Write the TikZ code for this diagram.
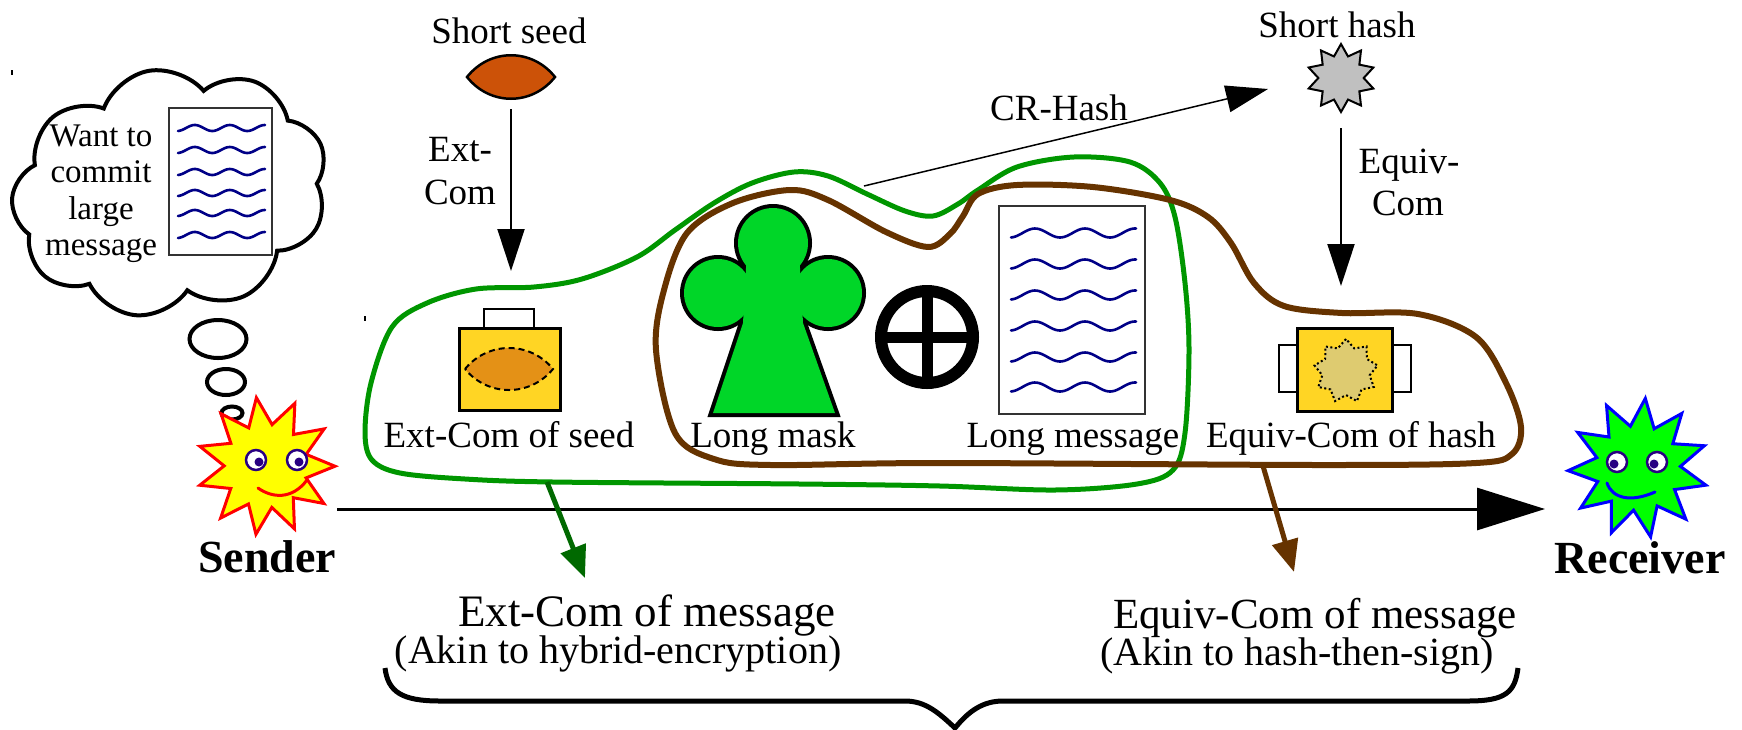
\documentclass[tikz,border=0pt]{standalone}
\usepackage{fontspec}
\setmainfont{Liberation Serif}
\usetikzlibrary{arrows.meta,shapes.geometric,shapes.symbols}

\definecolor{curvegreen}{RGB}{0,150,0}
\definecolor{arrowgreen}{RGB}{0,105,0}
\definecolor{curvebrown}{RGB}{102,51,0}
\definecolor{boxyellow}{RGB}{255,213,36}
\definecolor{seedorange}{RGB}{204,82,8}
\definecolor{lensorange}{RGB}{228,145,22}
\definecolor{hashgray}{RGB}{192,192,192}
\definecolor{starkhaki}{RGB}{222,203,112}
\definecolor{maskgreen}{RGB}{0,214,40}
\definecolor{wavenavy}{RGB}{0,0,135}
\definecolor{eyenavy}{RGB}{40,0,130}
\definecolor{sunyellow}{RGB}{255,255,0}
\definecolor{sunred}{RGB}{255,0,0}
\definecolor{facegreen}{RGB}{0,255,0}
\definecolor{faceblue}{RGB}{0,0,255}

% one wavy text line on a sheet: x0, y, length, amplitude, period
\newcommand{\wavyrow}[5]{\draw[wavy] plot[domain=0:#3,samples=60,smooth] ({#1+\x},{#2-#4*sin((\x-0.23*#5)*(360/#5))});}
% the club-shaped mask, as a list of filled parts
\newcommand{\maskparts}[1]{%
  \path[#1] (773,243) circle[radius=35];
  \path[#1] (718,293) circle[radius=34];
  \path[#1] (828,293) circle[radius=34];
  \path[#1] (747,250) -- (799,250) -- (803,323) -- (835,413) -- (713,413) -- (743,323) -- cycle;}

\begin{document}
\begin{tikzpicture}[x=1pt,y=-1pt,
  txt/.style={inner sep=0pt, anchor=base, font=\fontsize{37}{43}\selectfont},
  bigtxt/.style={inner sep=0pt, anchor=base, font=\fontsize{43}{48}\selectfont},
  midtxt/.style={inner sep=0pt, anchor=base, font=\fontsize{40}{46}\selectfont},
  cloudtxt/.style={inner sep=0pt, anchor=base, font=\fontsize{33}{37}\selectfont},
  nametxt/.style={inner sep=0pt, anchor=base, font=\bfseries\fontsize{46}{52}\selectfont},
  wavy/.style={draw=wavenavy, line width=2.6pt, line cap=round},
  paper/.style={draw=black!80, line width=2pt, fill=white, inner sep=0pt},
  bigtip/.style={-{Triangle[length=42pt,width=27pt]}},
  smalltip/.style={-{Triangle[length=32pt,width=26pt]}},
  lockbox/.style={draw=black, line width=3pt, fill=boxyellow, inner sep=0pt},
  lockhandle/.style={draw=black, line width=2.5pt, fill=white},
  eye/.style={draw=eyenavy, line width=2.5pt, fill=white},
  pupil/.style={fill=eyenavy},
  bubble/.style={ellipse, draw=black, line width=4pt, inner sep=0pt},
  fuzzy/.style={line width=5pt, line join=round},
]
\useasboundingbox (0,0) rectangle (1742,729);

% stray marks
\draw[line width=1.5pt] (12,70) -- (12,75);
\draw[line width=1.5pt] (365,316) -- (365,321);

% ---------- thought cloud ----------
\node[cloud, draw=black, line width=4pt, cloud puffs=9, cloud puff arc=120,
      cloud ignores aspect, minimum width=318pt, minimum height=246pt,
      inner sep=0pt, rotate=10] (cloud) at (170,192) {};
\node[bubble, minimum width=57pt, minimum height=38pt] (bubA) at (218,339) {};
\node[bubble, minimum width=38pt, minimum height=26pt] (bubB) at (226,382) {};
\node[bubble, minimum width=21pt, minimum height=13pt] (bubC) at (232,413) {};
\node[cloudtxt] (wantA) at (101,146) {Want to};
\node[cloudtxt] (wantB) at (101,182.5) {commit};
\node[cloudtxt] (wantC) at (101,219) {large};
\node[cloudtxt] (wantD) at (101,255) {message};
\node[paper, minimum width=103pt, minimum height=147pt] (smallsheet) at (220.5,181.5) {};
\foreach \yy in {128,150,172,193,213,235} {\wavyrow{178}{\yy}{87}{3}{35}}

% ---------- enclosing curves ----------
\draw[fuzzy, draw=curvegreen] plot[smooth cycle, tension=0.55] coordinates {
  (365,433) (371,383) (392,327) (427,303) (476,289) (534,287) (582,279)
  (637,257) (675,230) (714,203) (752,183) (794,172) (828,176) (867,194)
  (905,211) (933,216) (958,204) (978,190) (1017,167) (1074,157) (1130,162)
  (1160,183) (1175,217) (1185,283) (1189,350) (1185,433) (1173,470)
  (1137,484) (1055,490) (940,486) (800,484) (553,482) (465,479) (400,473)
  (372,460)};
\draw[fuzzy, line width=6pt, draw=curvebrown] plot[smooth cycle, tension=0.55] coordinates {
  (656,350) (664,290) (687,233) (733,203) (790,190) (828,200) (886,232)
  (928,247) (950,234) (963,216) (978,194) (1017,185) (1093,187) (1170,200)
  (1208,217) (1231,243) (1254,283) (1284,306) (1342,313) (1418,314)
  (1476,337) (1506,383) (1521,427) (1512,454) (1476,463) (1323,465)
  (940,463) (771,465) (714,459) (675,433)};

% ---------- short seed and its commitment ----------
\node[txt] (seedlbl) at (509,43) {Short seed};
\coordinate (seed) at (511,77);
\draw[draw=black, line width=2.5pt, fill=seedorange]
  (467,77) .. controls (490,48) and (532,48) .. (555,77)
           .. controls (532,106) and (490,106) .. (467,77) -- cycle;
\coordinate (seedOut) at (511,109);
\coordinate (extIn) at (511,271);
\draw[line width=2pt, bigtip] (seedOut) -- (extIn);
\node[txt] (extA) at (460,161) {Ext-};
\node[txt] (extB) at (460,204) {Com};

\draw[lockhandle] (484,309) rectangle (534,328);
\node[lockbox, minimum width=101pt, minimum height=82pt] (extbox) at (510,369.5) {};
\draw[draw=black, line width=2pt, dash pattern=on 6pt off 4pt, fill=lensorange]
  (465,369) .. controls (488,341) and (530,341) .. (553,369)
            .. controls (530,397) and (488,397) .. (465,369) -- cycle;
\node[txt] (extlbl) at (509,447) {Ext-Com of seed};

% ---------- long mask ----------
\maskparts{draw=black, line width=8pt, fill=maskgreen}
\maskparts{fill=maskgreen}
\node[txt] (masklbl) at (773,447) {Long mask};

% ---------- xor ----------
\node[circle, draw=black, line width=12pt, minimum size=92pt, inner sep=0pt] (xor) at (927,337) {};
\draw[line width=11pt] ([xshift=-41pt]xor.center) -- ([xshift=41pt]xor.center);
\draw[line width=11pt] ([yshift=-41pt]xor.center) -- ([yshift=41pt]xor.center);

% ---------- long message ----------
\node[paper, minimum width=146pt, minimum height=208pt] (bigsheet) at (1072,310) {};
\foreach \yy in {233,264,295,326,357,387} {\wavyrow{1011}{\yy}{125}{4.5}{50}}
\node[txt] (msglbl) at (1073,447) {Long message};

% ---------- short hash ----------
\node[txt] (hashlbl) at (1337,37) {Short hash};
\node[star, star points=10, star point ratio=1.5, minimum size=68pt, draw=black,
      line width=2pt, fill=hashgray, inner sep=0pt] (hash) at (1341,78) {};
\coordinate (crFrom) at (864,186);
\coordinate (crTo) at (1268,89);
\draw[line width=1.5pt, bigtip] (crFrom) -- (crTo);
\node[txt] (crlbl) at (1059,120) {CR-Hash};

\coordinate (hashOut) at (1341,128);
\coordinate (equivIn) at (1341,286);
\draw[line width=2pt, bigtip] (hashOut) -- (equivIn);
\node[txt] (eqA) at (1409,173) {Equiv-};
\node[txt] (eqB) at (1408,215) {Com};

\draw[lockhandle] (1279,345) rectangle (1297,392);
\draw[lockhandle] (1392,345) rectangle (1411,392);
\node[lockbox, minimum width=95pt, minimum height=83pt] (equivbox) at (1344.5,369.5) {};
\node[star, star points=9, star point ratio=1.33, minimum size=64pt, draw=black,
      line width=2pt, dash pattern=on 2pt off 2.5pt, fill=starkhaki,
      inner sep=0pt] (hashmark) at (1346,371) {};
\node[txt] (equivlbl) at (1351,447) {Equiv-Com of hash};

% ---------- sender and receiver ----------
\node[star, star points=11, star point ratio=1.65, minimum size=138pt, draw=sunred,
      line width=3pt, fill=sunyellow, inner sep=0pt, rotate=8] (sender) at (266,466) {};
\draw[eye] (256,460) circle[radius=10];
\draw[eye] (297,460) circle[radius=10];
\fill[pupil] (259,462) circle[radius=4.5];
\fill[pupil] (299,462) circle[radius=4.5];
\draw[draw=sunred, line width=3pt, line cap=round] (258,488) .. controls (272,498) and (292,500) .. (307,480);
\node[nametxt] (senderlbl) at (267,572) {Sender};

\node[star, star points=11, star point ratio=1.65, minimum size=140pt, draw=faceblue,
      line width=3pt, fill=facegreen, inner sep=0pt, rotate=-6] (receiver) at (1638,468) {};
\draw[eye] (1617,462) circle[radius=10];
\draw[eye] (1657,462) circle[radius=10];
\fill[pupil] (1614,464) circle[radius=4.5];
\fill[pupil] (1654,464) circle[radius=4.5];
\draw[draw=faceblue, line width=3pt, line cap=round] (1607,483) .. controls (1612,498) and (1630,503) .. (1655,492);
\node[nametxt] (receiverlbl) at (1640,573) {Receiver};

\coordinate (chanFrom) at (337,509);
\coordinate (chanTo) at (1545,509);
\draw[line width=3pt, -{Triangle[length=68pt,width=42pt]}] (chanFrom) -- (chanTo);

% ---------- results ----------
\coordinate (gFrom) at (547,482);
\coordinate (gTo) at (585,578);
\draw[line width=5pt, draw=arrowgreen, smalltip, arrowgreen] (gFrom) -- (gTo);
\coordinate (bFrom) at (1263,466);
\coordinate (bTo) at (1294,572);
\draw[line width=5pt, draw=curvebrown, smalltip, curvebrown] (bFrom) -- (bTo);

\node[bigtxt, font=\fontsize{45}{50}\selectfont] (extres) at (647,626) {Ext-Com of message};
\node[midtxt] (extakin) at (618,663) {(Akin to hybrid-encryption)};
\node[bigtxt] (eqres) at (1315,628) {Equiv-Com of message};
\node[midtxt] (eqakin) at (1297,665) {(Akin to hash-then-sign)};

\coordinate (braceL) at (385,668);
\coordinate (braceM) at (955,728);
\coordinate (braceR) at (1518,668);
\draw[line width=5pt, line join=round]
  (braceL) .. controls (388,692) and (402,701) .. (440,701) -- (905,701)
  .. controls (925,701) and (938,712) .. (braceM)
  .. controls (968,712) and (982,701) .. (1003,701) -- (1468,701)
  .. controls (1506,701) and (1515,692) .. (braceR);
\end{tikzpicture}
\end{document}
